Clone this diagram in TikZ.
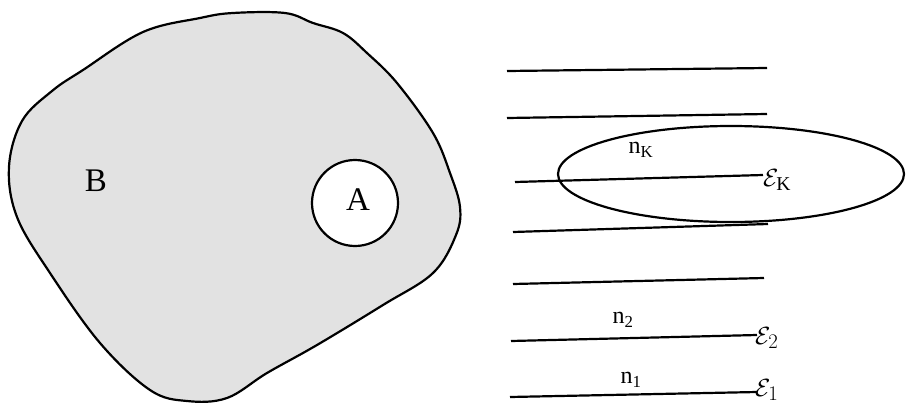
\documentclass[tikz,border=0pt]{standalone}
\usepackage{fontspec}
\setmainfont{Liberation Serif}
\usetikzlibrary{shapes.geometric}
\definecolor{blobgray}{RGB}{226,226,226}
\begin{document}
\begin{tikzpicture}[x=1pt,y=-1pt,
  outline/.style={draw,line width=2.2pt,black},
  stroke/.style={line width=2.2pt,black},
  bigtxt/.style={font=\fontsize{33}{36}\selectfont,inner sep=0pt},
  lbl/.style={font=\fontsize{24}{26}\selectfont,inner sep=0pt},
  eps/.style={font=\fontsize{28}{30}\selectfont,inner sep=0pt,anchor=west}]
\useasboundingbox (0,0) rectangle (906,407);
% blob B
\draw[outline,fill=blobgray] plot[smooth cycle,tension=0.6] coordinates {
 (233,13) (285,13) (313,23) (343,33) (367,53) (397,83) (433,133) (450,173)
 (460,207) (456,235) (433,273) (383,305) (317,345) (267,373) (227,398)
 (187,401) (150,390) (100,343) (50,273) (17,217) (9,167) (22,121)
 (52,91) (83,70) (143,32) (200,18)};
\node[bigtxt] (B) at (96,181) {B};
\node[circle,outline,fill=white,minimum size=86pt,inner sep=0pt] (Acirc) at (355,203) {};
\node[bigtxt] (A) at (358,200) {A};
% lines
\draw[stroke] (507,71) -- (767,68);
\draw[stroke] (507,118) -- (767,114);
\draw[stroke] (515,182) -- (763,175);
\draw[stroke] (513,232) -- (768,224);
\draw[stroke] (513,284) -- (764,278);
\draw[stroke] (511,341) -- (757,335);
\draw[stroke] (510,397) -- (757,392);
% ellipse
\draw[outline] (731,174) ellipse [x radius=173pt, y radius=48pt];
% labels
\node[lbl] (nK) at (641,150) {n\textsubscript{K}};
\node[eps] (eK) at (763,180) {$\mathcal{E}_{\mathrm{K}}$};
\node[lbl] (n2) at (623,320) {n\textsubscript{2}};
\node[eps] (e2) at (755,338) {$\mathcal{E}_{2}$};
\node[lbl] (n1) at (631,380) {n\textsubscript{1}};
\node[eps] (e1) at (755,390) {$\mathcal{E}_{1}$};
\end{tikzpicture}
\end{document}
